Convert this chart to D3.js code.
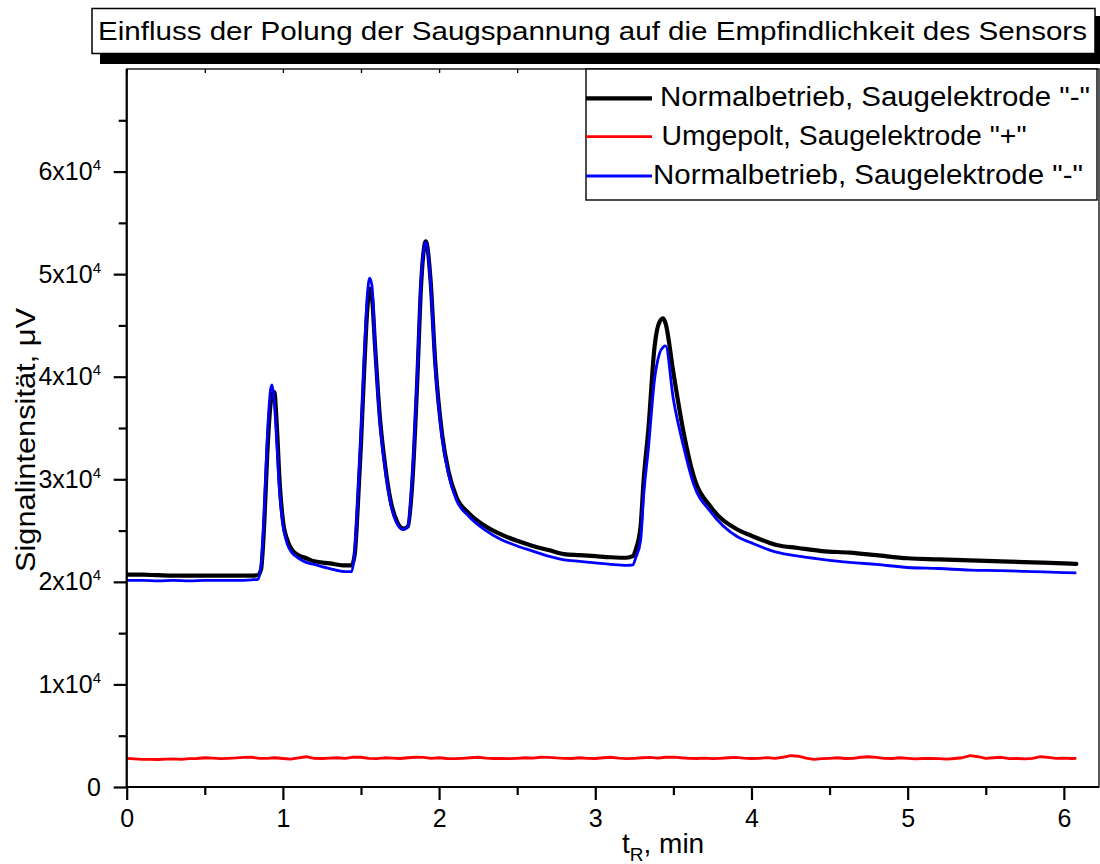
<!DOCTYPE html>
<html>
<head>
<meta charset="utf-8">
<script src="https://cdn.jsdelivr.net/npm/d3@7"></script>
<style>
  html, body { margin: 0; padding: 0; background: #fff; }
  svg { display: block; }
  text { font-family: "Liberation Sans", Arial, sans-serif; fill: #000; }
</style>
</head>
<body>
<svg id="chart" width="1100" height="864"></svg>
<script>
// Retention time grid (min) shared by the two normal-mode runs
const times = [
  0.00, 0.10, 0.20, 0.30, 0.40, 0.50, 0.60, 0.70, 0.80, 0.84,
  0.86, 0.88, 0.90, 0.92, 0.93, 0.945, 0.96, 0.98, 1.00, 1.03,
  1.06, 1.10, 1.15, 1.20, 1.30, 1.40, 1.44, 1.46, 1.48, 1.50,
  1.52, 1.54, 1.555, 1.57, 1.59, 1.62, 1.655, 1.69, 1.73, 1.77,
  1.80, 1.83, 1.86, 1.885, 1.915, 1.945, 1.975, 2.02, 2.06, 2.11,
  2.19, 2.30, 2.40, 2.50, 2.60, 2.70, 2.80, 2.90, 3.00, 3.10,
  3.20, 3.24, 3.26, 3.29, 3.31, 3.34, 3.38, 3.41, 3.435, 3.45,
  3.50, 3.565, 3.63, 3.74, 3.91, 4.00, 4.16, 4.30, 4.45, 4.63,
  4.80, 5.00, 5.20, 5.40, 5.60, 5.80, 6.00, 6.08
];

// Normalbetrieb, Saugelektrode "-" (first run), µV
const normalA = [
  20700, 20700, 20650, 20600, 20600, 20600, 20600, 20600, 20600, 20650,
  21200, 25500, 32500, 37200, 38200, 38500, 35500, 29500, 26000, 24000,
  23100, 22600, 22300, 22000, 21800, 21600, 21600, 22700, 27500, 33500,
  40500, 46500, 48600, 47800, 43000, 36200, 31300, 27900, 25900, 25200,
  25400, 30000, 39500, 49000, 53200, 49500, 41500, 34300, 30800, 28300,
  26700, 25400, 24600, 24000, 23500, 23100, 22700, 22600, 22500, 22400,
  22350, 22500, 23200, 25400, 30000, 34900, 43000, 45300, 45700, 45200,
  40400, 34600, 30300, 27300, 25100, 24500, 23600, 23300, 23000, 22850,
  22600, 22300, 22200, 22100, 22000, 21900, 21800, 21750
];

// Normalbetrieb, Saugelektrode "-" (second run), µV
const normalB = [
  20150, 20150, 20100, 20150, 20100, 20150, 20150, 20150, 20200, 20250,
  21500, 26500, 34000, 38600, 39200, 37600, 33800, 28600, 25600, 23600,
  22800, 22300, 21900, 21700, 21300, 21000, 21000, 23000, 28300, 34300,
  41500, 47800, 49600, 48900, 43000, 35800, 31000, 27600, 25700, 25100,
  25400, 30500, 40200, 49500, 53150, 49300, 41200, 34000, 30500, 28000,
  26400, 25000, 24100, 23500, 23000, 22500, 22150, 22000, 21850, 21700,
  21600, 21650, 22400, 24000, 28500, 33000, 39800, 42200, 42900, 43000,
  37800, 33200, 29500, 26800, 24400, 23800, 22900, 22500, 22200, 21900,
  21700, 21400, 21300, 21150, 21100, 21000, 20900, 20870
];

// Umgepolt, Saugelektrode "+", sampled every 0.05 min, µV
const reversedTimes = d3.range(122).map(i => i * 0.05).concat([6.08]);
const reversed = [
  2800, 2750, 2700, 2700, 2680, 2720, 2750, 2700, 2760, 2780,
  2850, 2820, 2760, 2800, 2830, 2880, 2900, 2800, 2790, 2850,
  2780, 2720, 2850, 2950, 2800, 2780, 2820, 2850, 2800, 2920,
  2900, 2800, 2760, 2850, 2820, 2780, 2850, 2900, 2880, 2800,
  2850, 2780, 2760, 2800, 2850, 2900, 2820, 2780, 2800, 2760,
  2800, 2850, 2820, 2900, 2880, 2830, 2800, 2780, 2850, 2800,
  2780, 2850, 2900, 2820, 2760, 2800, 2850, 2880, 2820, 2900,
  2920, 2850, 2800, 2780, 2820, 2760, 2800, 2850, 2880, 2820,
  2780, 2800, 2860, 2800, 2900, 3050, 3000, 2820, 2700, 2760,
  2800, 2850, 2780, 2800, 2900, 2950, 2880, 2800, 2780, 2850,
  2800, 2750, 2780, 2800, 2760, 2720, 2780, 2850, 3050, 2950,
  2800, 2850, 2900, 2760, 2780, 2750, 2800, 2950, 2880, 2800,
  2820, 2780, 2800
];

// Axis ticks
const xMajorTicks = [0, 1, 2, 3, 4, 5, 6];
const xMinorTicks = [0.5, 1.5, 2.5, 3.5, 4.5, 5.5];
const yMajorTicks = [0, 10000, 20000, 30000, 40000, 50000, 60000];
const yMinorTicks = [5000, 15000, 25000, 35000, 45000, 55000, 65000];
const yTickMantissa = ["0", "1", "2", "3", "4", "5", "6"];

const titleText = "Einfluss der Polung der Saugspannung auf die Empfindlichkeit des Sensors";
const legendLabels = [
  'Normalbetrieb, Saugelektrode "-"',
  'Umgepolt, Saugelektrode "+"',
  'Normalbetrieb, Saugelektrode "-"'
];

const svg = d3.select("#chart");

const plot = { left: 126.7, right: 1099, top: 69, bottom: 787 };
const x = d3.scaleLinear().domain([0, 6.225]).range([plot.left, plot.right]);
const y = d3.scaleLinear().domain([0, 70000]).range([plot.bottom, plot.top]);

// ---- Title box with drop shadow ----
svg.append("rect").attr("x", 100).attr("y", 16).attr("width", 1010).attr("height", 48).attr("fill", "#000");
svg.append("rect").attr("x", 92).attr("y", 8.5).attr("width", 1003).attr("height", 45)
  .attr("fill", "#fff").attr("stroke", "#000").attr("stroke-width", 1.5);
svg.append("text").attr("x", 98).attr("y", 40)
  .attr("font-size", 26)
  .attr("textLength", 989).attr("lengthAdjust", "spacingAndGlyphs")
  .text(titleText);

// ---- Plot frame ----
svg.append("rect")
  .attr("x", plot.left).attr("y", plot.top)
  .attr("width", plot.right - plot.left).attr("height", plot.bottom - plot.top)
  .attr("fill", "none").attr("stroke", "#000").attr("stroke-width", 1.3);

// Top axis: short inward ticks
const topAxis = svg.append("g").attr("transform", `translate(0,${plot.top})`)
  .call(d3.axisTop(x).tickValues(xMajorTicks.concat(xMinorTicks)).tickSize(-4).tickFormat(""));
topAxis.select(".domain").remove();
topAxis.selectAll("line").attr("stroke-width", 1.3);

// ---- Data lines ----
svg.append("clipPath").attr("id", "plotclip").append("rect")
  .attr("x", plot.left).attr("y", plot.top)
  .attr("width", plot.right - plot.left).attr("height", plot.bottom - plot.top);

const lineSmooth = d3.line().curve(d3.curveMonotoneX).x(d => x(d[0])).y(d => y(d[1]));
const lineRaw = d3.line().x(d => x(d[0])).y(d => y(d[1]));

const gLines = svg.append("g").attr("clip-path", "url(#plotclip)");
gLines.append("path").datum(d3.zip(times, normalA))
  .attr("d", lineSmooth).attr("fill", "none").attr("stroke", "#000")
  .attr("stroke-width", 4.2).attr("stroke-linejoin", "round").attr("stroke-linecap", "round");
gLines.append("path").datum(d3.zip(reversedTimes, reversed))
  .attr("d", lineRaw).attr("fill", "none").attr("stroke", "#ff0000")
  .attr("stroke-width", 2.8).attr("stroke-linejoin", "round");
gLines.append("path").datum(d3.zip(times, normalB))
  .attr("d", lineSmooth).attr("fill", "none").attr("stroke", "#0000ff")
  .attr("stroke-width", 2.8).attr("stroke-linejoin", "round");

// ---- Bottom axis ----
const xAxis = svg.append("g").attr("transform", `translate(0,${plot.bottom})`)
  .call(d3.axisBottom(x).tickValues(xMajorTicks).tickFormat(d3.format("d"))
    .tickSize(13).tickPadding(9).tickSizeOuter(0));
xAxis.select(".domain").attr("stroke-width", 2.2).attr("d", `M${plot.left},0H${plot.right}`);
xAxis.selectAll("line").attr("stroke-width", 2.2);
xAxis.selectAll("text").attr("font-size", 25).attr("font-family", '"Liberation Sans", Arial, sans-serif').attr("fill", "#000");

const xMinor = svg.append("g").attr("transform", `translate(0,${plot.bottom})`)
  .call(d3.axisBottom(x).tickValues(xMinorTicks).tickSize(8).tickFormat(""));
xMinor.select(".domain").remove();
xMinor.selectAll("line").attr("stroke-width", 2.2);

// ---- Left axis ----
const yAxis = svg.append("g").attr("transform", `translate(${plot.left},0)`)
  .call(d3.axisLeft(y).tickValues(yMajorTicks).tickSize(13).tickFormat("").tickSizeOuter(0));
yAxis.select(".domain").attr("stroke-width", 2.2).attr("d", `M0,${plot.bottom}V${plot.top}`);
yAxis.selectAll("line").attr("stroke-width", 2.2);

const yMinor = svg.append("g").attr("transform", `translate(${plot.left},0)`)
  .call(d3.axisLeft(y).tickValues(yMinorTicks).tickSize(8).tickFormat(""));
yMinor.select(".domain").remove();
yMinor.selectAll("line").attr("stroke-width", 2.2);

// Tick labels in "n x 10^4" form
yMajorTicks.forEach((v, i) => {
  const t = svg.append("text")
    .attr("x", 101).attr("y", y(v)).attr("dy", "0.34em")
    .attr("text-anchor", "end").attr("font-size", 25);
  if (v === 0) {
    t.text("0");
  } else {
    t.append("tspan").text(yTickMantissa[i] + "x10");
    t.append("tspan").attr("font-size", 15).attr("dy", -10).text("4");
  }
});

// ---- Axis titles ----
svg.append("text")
  .attr("transform", "translate(35,440) rotate(-90)")
  .attr("text-anchor", "middle").attr("font-size", 27)
  .attr("textLength", 264).attr("lengthAdjust", "spacingAndGlyphs")
  .text("Signalintensität, μV");

const xt = svg.append("text").attr("x", 622).attr("y", 853).attr("font-size", 28);
xt.append("tspan").text("t");
xt.append("tspan").attr("font-size", 19).attr("dy", 8).text("R");
xt.append("tspan").attr("dy", -8).text(", min");

// ---- Legend ----
const legend = { x: 586, y: 69, w: 511, h: 131 };
svg.append("rect").attr("x", legend.x).attr("y", legend.y)
  .attr("width", legend.w).attr("height", legend.h)
  .attr("fill", "#fff").attr("stroke", "#000").attr("stroke-width", 1.4);

const legendItems = [
  { color: "#000", width: 4.2, ly: 98.3, tx: 660, tw: 430 },
  { color: "#ff0000", width: 2.8, ly: 136.7, tx: 661.5, tw: 365 },
  { color: "#0000ff", width: 2.8, ly: 176, tx: 653, tw: 430 }
];
legendItems.forEach((it, i) => {
  svg.append("line")
    .attr("x1", 586).attr("x2", 652).attr("y1", it.ly).attr("y2", it.ly)
    .attr("stroke", it.color).attr("stroke-width", it.width);
  svg.append("text")
    .attr("x", it.tx).attr("y", it.ly + 8)
    .attr("font-size", 27)
    .attr("textLength", it.tw).attr("lengthAdjust", "spacingAndGlyphs")
    .text(legendLabels[i]);
});
</script>
</body>
</html>
